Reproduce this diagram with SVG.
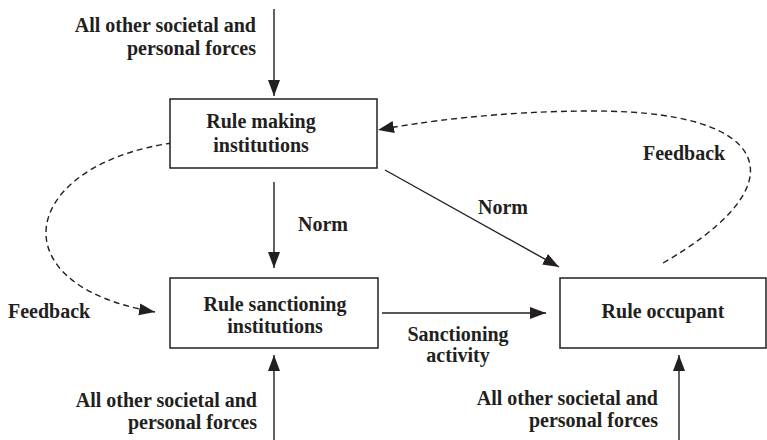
<svg xmlns="http://www.w3.org/2000/svg" width="767" height="440" viewBox="0 0 767 440">
<style>
text{font-family:"Liberation Serif","Times New Roman",serif;font-weight:bold;font-size:20px;fill:#231f20}
.box{fill:#fff;stroke:#231f20;stroke-width:1.5}
.c{fill:none;stroke:#231f20;stroke-width:1.4}
.d{fill:none;stroke:#231f20;stroke-width:1.4;stroke-dasharray:6 4}
.m{text-anchor:middle}
.e{text-anchor:end}
</style>
<defs>
<marker id="ah" markerUnits="userSpaceOnUse" markerWidth="18" markerHeight="14" refX="16" refY="6" orient="auto">
<path d="M0,0 L16,6 L0,12 z" fill="#231f20"/>
</marker>
</defs>
<g id="connectors">
<path class="c" d="M274,9 L274,96" marker-end="url(#ah)"/>
<path class="c" d="M274,182 L274,268" marker-end="url(#ah)"/>
<path class="c" d="M385,170 L559,267" marker-end="url(#ah)"/>
<path class="c" d="M382,313 L546,313" marker-end="url(#ah)"/>
<path class="c" d="M274,440 L274,355" marker-end="url(#ah)"/>
<path class="c" d="M679,440 L679,355" marker-end="url(#ah)"/>
<path class="d" d="M172,143 C20,165 -5,285 155,312" marker-end="url(#ah)"/>
<path class="d" d="M663,263 C720,230 755,195 750,165 C745,135 700,111 593,111 C500,111 420,122 378,130" marker-end="url(#ah)"/>
<text class="m" x="323" y="231">Norm</text>
<text class="m" x="503" y="214">Norm</text>
<text class="m" x="458" y="341">Sanctioning</text>
<text class="m" x="458" y="362">activity</text>
<text x="8" y="318">Feedback</text>
<text x="643" y="160">Feedback</text>
<text class="e" x="256" y="32">All other societal and</text>
<text class="e" x="256" y="55">personal forces</text>
<text class="e" x="257" y="407">All other societal and</text>
<text class="e" x="257" y="429">personal forces</text>
<text class="e" x="658" y="405">All other societal and</text>
<text class="e" x="658" y="427">personal forces</text>
</g>
<g id="rule-making">
<rect class="box" x="170" y="99" width="207" height="69"/>
<text class="m" x="261" y="128">Rule making</text>
<text class="m" x="261" y="152">institutions</text>
</g>
<g id="rule-sanctioning">
<rect class="box" x="170" y="278" width="208" height="70"/>
<text class="m" x="275" y="311">Rule sanctioning</text>
<text class="m" x="275" y="333">institutions</text>
</g>
<g id="rule-occupant">
<rect class="box" x="560" y="278" width="206" height="70"/>
<text class="m" x="663" y="318">Rule occupant</text>
</g>
</svg>
